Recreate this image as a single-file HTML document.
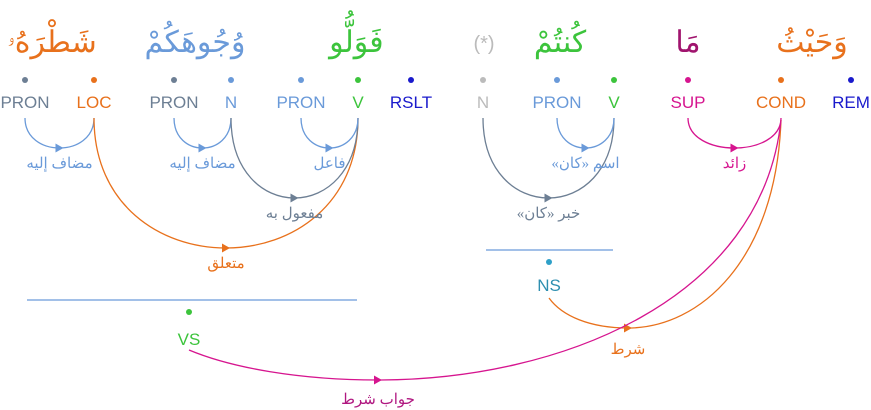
<!DOCTYPE html>
<html><head><meta charset="utf-8"><style>
html,body{margin:0;padding:0;background:#fff}
svg{display:block}
.pos{font-family:"Liberation Sans",sans-serif;font-size:17px;text-anchor:middle}
.ar{font-family:"Liberation Serif","Noto Serif CJK SC",serif;text-anchor:middle;direction:rtl;unicode-bidi:embed}
</style></head><body>
<svg id="g" width="871" height="410" viewBox="0 0 871 410" xmlns="http://www.w3.org/2000/svg">
<g>
<text class="ar" x="52" y="52" font-size="30" fill="#e8711c">شَطْرَهُۥ</text>
<text class="ar" x="195" y="52" font-size="30" fill="#6a9ad9">وُجُوهَكُمْ</text>
<text class="ar" x="333" y="52" font-size="30" fill="#3cc43c">فَوَلُّوا۟</text>
<text class="pos" x="484" y="50" font-size="20" fill="#bbbbbb" style="font-size:20px">(*)</text>
<text class="ar" x="560" y="52" font-size="30" fill="#3cc43c">كُنتُمْ</text>
<text class="ar" x="688" y="52" font-size="30" fill="#a0146e">مَا</text>
<text class="ar" x="812" y="52" font-size="30" fill="#e8711c">وَحَيْثُ</text>
</g>
<g id="nodes"></g>
<g id="arcs"></g>
<g>
<line x1="27" y1="300" x2="357" y2="300" stroke="#6a9ad9" stroke-width="1.2"/>
<circle cx="189" cy="312" r="3" fill="#3cc43c"/>
<text class="pos" x="189" y="345" fill="#3cc43c">VS</text>
<line x1="486" y1="250" x2="613" y2="250" stroke="#6a9ad9" stroke-width="1.2"/>
<circle cx="549" cy="262" r="3" fill="#2ea0c8"/>
<text class="pos" x="549" y="291" fill="#2e8fb0">NS</text>
</g>
<g>
<path d="M781,120 C776,260 700,328 628,328" fill="none" stroke="#e8711c" stroke-width="1.3"/>
<path d="M628,328 C590,328 562,316 549,298" fill="none" stroke="#e8711c" stroke-width="1.3"/>
<path d="M624,323.5 L632,328 L624,332.5z" fill="#e8711c"/>
<text class="ar" x="628" y="354" font-size="15" fill="#e8711c">شرط</text>
<path d="M781,120 C762,300 560,380 378,380" fill="none" stroke="#d6158f" stroke-width="1.3"/>
<path d="M378,380 C300,380 232,368 189,350" fill="none" stroke="#d6158f" stroke-width="1.3"/>
<path d="M374,375.5 L382,380 L374,384.5z" fill="#d6158f"/>
<text class="ar" x="378" y="404" font-size="15" fill="#b01780">جواب شرط</text>
</g>
</svg>
<script>
const tags=["PRON","LOC","PRON","N","PRON","V","RSLT","N","PRON","V","SUP","COND","REM"];
const tagX=[25,94,174,231,301,358,411,483,557,614,688,781,851];
const tagColors=["#6d7f94","#e8711c","#6d7f94","#6a9ad9","#6a9ad9","#3cc43c","#1a1acc","#bbbbbb","#6a9ad9","#3cc43c","#d6158f","#e8711c","#1a1acc"];
const arcFrom=[0,1,2,3,4,7,8,10];
const arcTo=[1,5,3,5,5,9,9,11];
const arcDepth=[30,130,30,80,30,80,30,30];
const arcLabels=["مضاف إليه","متعلق","مضاف إليه","مفعول به","فاعل","خبر «كان»","اسم «كان»","زائد"];
const arcColors=["#6a9ad9","#e8711c","#6a9ad9","#6d7f94","#6a9ad9","#6d7f94","#6a9ad9","#d6158f"];
const NS="http://www.w3.org/2000/svg";
const nodes=document.getElementById('nodes'),arcs=document.getElementById('arcs');
tags.forEach((t,i)=>{
 const c=document.createElementNS(NS,'circle');
 c.setAttribute('cx',tagX[i]);c.setAttribute('cy',80);c.setAttribute('r',3);c.setAttribute('fill',tagColors[i]);
 
 
 nodes.appendChild(c);
 const tx=document.createElementNS(NS,'text');
 tx.setAttribute('class','pos');tx.setAttribute('x',tagX[i]);tx.setAttribute('y',108);tx.setAttribute('fill',tagColors[i]);
 tx.textContent=t;
 
 
 nodes.appendChild(tx);
});
const y0=118;
arcFrom.forEach((f,i)=>{
 const x1=tagX[f],x2=tagX[arcTo[i]],d=arcDepth[i],cy=y0+d/0.75,mx=(x1+x2)/2,by=y0+d;
 const p=document.createElementNS(NS,'path');
 p.setAttribute('d',`M${x1},${y0} C${x1},${cy} ${x2},${cy} ${x2},${y0}`);
 p.setAttribute('fill','none');p.setAttribute('stroke',arcColors[i]);p.setAttribute('stroke-width',1.3);
 
 
 arcs.appendChild(p);
 const a=document.createElementNS(NS,'path');
 a.setAttribute('d',`M${mx-4},${by-4.5} L${mx+4},${by} L${mx-4},${by+4.5}z`);
 a.setAttribute('fill',arcColors[i]);
 
 
 arcs.appendChild(a);
 const l=document.createElementNS(NS,'text');
 l.setAttribute('class','ar');l.setAttribute('x',mx);l.setAttribute('y',by+20);
 l.setAttribute('font-size',15);l.setAttribute('fill',arcColors[i]);
 l.setAttribute('direction','rtl');
 l.textContent=arcLabels[i];
 
 
 arcs.appendChild(l);
});
</script>
</body></html>
